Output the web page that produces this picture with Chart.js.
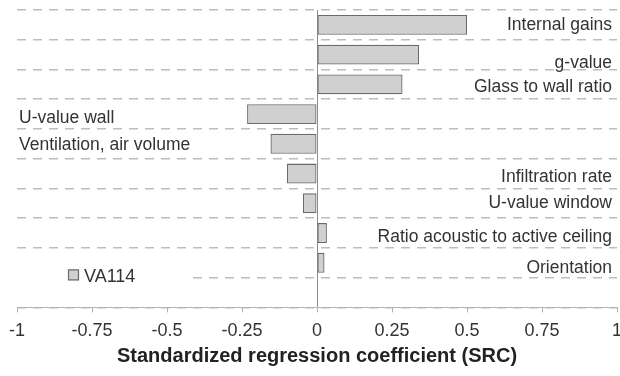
<!DOCTYPE html>
<html>
<head>
<meta charset="utf-8">
<script src="https://cdn.jsdelivr.net/npm/chart.js@4.4.1/dist/chart.umd.min.js"></script>
<style>
  html, body { margin: 0; padding: 0; background: #fff; }
  #wrap { width: 620px; height: 376px; }
</style>
</head>
<body>
<div id="wrap"><canvas id="src"></canvas></div>
<script>
// Faktoren (oben nach unten), letzte Zeile leer (Platz fuer Legende)
const factors = [
  "Internal gains", "g-value", "Glass to wall ratio", "U-value wall",
  "Ventilation, air volume", "Infiltration rate", "U-value window",
  "Ratio acoustic to active ceiling", "Orientation", ""
];
// SRC-Werte VA114
const srcValues = [0.50, 0.34, 0.285, -0.233, -0.155, -0.10, -0.047, 0.033, 0.025, null];
const seriesName = "VA114";
const xTicks = [-1, -0.75, -0.5, -0.25, 0, 0.25, 0.5, 0.75, 1];

// Beschriftung: Seite (L/R) und kleine vertikale Verschiebung je Zeile
const labelSide = ["R", "R", "R", "L", "L", "R", "R", "R", "R", ""];
const labelDy = [5, 13, 8, 9, 6, 8, 5, 9, 10, 0];

const FONT = "'Liberation Sans', Arial, sans-serif";
const TEXT = "#333333";
const BAR_FILL = "#d0d0d0";
const BAR_EDGE = "#6a6a6a";

// Kategorienamen direkt in die Zeichenflaeche schreiben
const barLabels = {
  id: "barLabels",
  afterDatasetsDraw(chart) {
    const ctx = chart.ctx;
    const area = chart.chartArea;
    const meta = chart.getDatasetMeta(0);
    ctx.save();
    ctx.font = "17.5px " + FONT;
    ctx.fillStyle = TEXT;
    ctx.textBaseline = "alphabetic";
    meta.data.forEach((bar, i) => {
      if (!factors[i]) return;
      if (labelSide[i] === "R") {
        ctx.textAlign = "right";
        ctx.fillText(factors[i], area.right - 5, bar.y + labelDy[i]);
      } else {
        ctx.textAlign = "left";
        ctx.fillText(factors[i], area.left + 2, bar.y + labelDy[i]);
      }
    });
    ctx.restore();
  }
};

// Legende innerhalb der Zeichenflaeche (unten links)
const innerLegend = {
  id: "innerLegend",
  afterDraw(chart) {
    const ctx = chart.ctx;
    const area = chart.chartArea;
    const y = area.bottom - 32;
    ctx.save();
    ctx.fillStyle = "#fff";
    ctx.fillRect(area.left, y - 10, 176, 20);
    ctx.fillStyle = BAR_FILL;
    ctx.fillRect(68, y - 6, 11, 11);
    ctx.strokeStyle = BAR_EDGE;
    ctx.lineWidth = 1.2;
    ctx.strokeRect(68.5, y - 5.5, 10, 10);
    ctx.font = "18px " + FONT;
    ctx.fillStyle = TEXT;
    ctx.textAlign = "left";
    ctx.textBaseline = "alphabetic";
    ctx.fillText(seriesName, 84, y + 7);
    ctx.restore();
  }
};

new Chart(document.getElementById("src"), {
  type: "bar",
  data: {
    labels: factors,
    datasets: [{
      label: seriesName,
      data: srcValues,
      backgroundColor: BAR_FILL,
      borderColor: BAR_EDGE,
      borderWidth: 1.3,
      borderSkipped: false,
      barPercentage: 0.67,
      categoryPercentage: 1.0
    }]
  },
  options: {
    indexAxis: "y",
    responsive: true,
    maintainAspectRatio: false,
    animation: false,
    layout: { padding: { left: 17, right: 3, top: 10, bottom: 8 } },
    plugins: {
      legend: { display: false },
      tooltip: { enabled: false }
    },
    scales: {
      x: {
        min: -1,
        max: 1,
        afterBuildTicks: (axis) => { axis.ticks = xTicks.map(v => ({ value: v })); },
        afterFit: (axis) => { axis.paddingLeft = 0; axis.paddingRight = 0; },
        ticks: {
          color: TEXT,
          font: { family: FONT, size: 18 },
          padding: 8,
          maxRotation: 0,
          callback: (v) => String(v)
        },
        grid: {
          drawOnChartArea: true,
          color: (c) => (c.tick && c.tick.value === 0 ? "#8c8c8c" : "rgba(0,0,0,0)"),
          tickColor: "#b0b0b0",
          tickLength: 5,
          lineWidth: 1
        },
        border: { display: true, color: "#b5b5b5", width: 1 },
        title: {
          display: true,
          text: "Standardized regression coefficient (SRC)",
          color: "#222",
          font: { family: FONT, size: 20, weight: "bold" },
          padding: { top: -6, bottom: 0 }
        }
      },
      y: {
        grid: {
          offset: true,
          drawTicks: false,
          color: (c) => (c.index === factors.length ? "rgba(0,0,0,0)" : "#bdbdbd"),
          lineWidth: 1.5
        },
        border: { display: false, dash: [9, 7] },
        ticks: { display: false }
      }
    }
  },
  plugins: [barLabels, innerLegend]
});
</script>
</body>
</html>
